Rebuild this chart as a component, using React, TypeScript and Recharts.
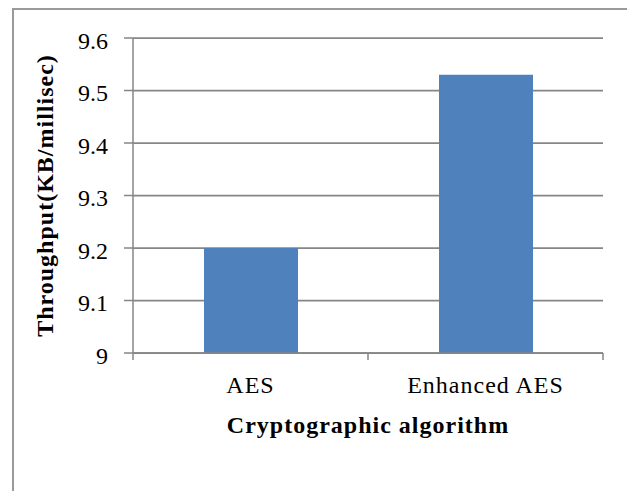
import React from "react";
import {
  BarChart,
  Bar,
  XAxis,
  YAxis,
  CartesianGrid,
  Label,
} from "recharts";

const categories = ["AES", "Enhanced AES"];
const throughput = [9.2, 9.53];
const yTicks = [9, 9.1, 9.2, 9.3, 9.4, 9.5, 9.6];

const chartData = categories.map((name, i) => ({ name, value: throughput[i] }));

const W = 627;
const H = 483;
const PLOT_W = 470;
const AXIS_COLOR = "#868686";
const FONT = "Liberation Serif";

function CategoryTick(props: any) {
  const { x, y, payload, index } = props;
  const half =
    payload && typeof payload.offset === "number" && payload.offset > 0
      ? payload.offset
      : PLOT_W / categories.length / 2;
  const last = index === categories.length - 1;
  return (
    <g>
      <line x1={x - half} y1={y} x2={x - half} y2={y + 7} stroke={AXIS_COLOR} strokeWidth={1.5} />
      {last && (
        <line x1={x + half} y1={y} x2={x + half} y2={y + 7} stroke={AXIS_COLOR} strokeWidth={1.5} />
      )}
      <text
        x={x}
        y={y}
        dy={40}
        textAnchor="middle"
        fill="#000"
        fontSize={24}
        style={{ fontFamily: FONT }}
        letterSpacing={1}
      >
        {payload.value}
      </text>
    </g>
  );
}

export default function App() {
  return (
    <div
      style={{
        position: "relative",
        width: W,
        height: H,
        overflow: "hidden",
        background: "#fff",
        fontFamily: FONT,
      }}
    >
      <div
        style={{
          position: "absolute",
          left: 4,
          top: 0,
          width: 615,
          height: 540,
          border: "2px solid #9a9a9a",
        }}
      />
      <div style={{ position: "absolute", left: 0, top: 0 }}>
        <BarChart
          width={W}
          height={H}
          data={chartData}
          margin={{ top: 30, right: 32, left: 0, bottom: 108 }}
          style={{ fontFamily: FONT }}
        >
          <CartesianGrid vertical={false} stroke={AXIS_COLOR} strokeWidth={1.75} />
          <XAxis
            dataKey="name"
            height={30}
            tickLine={false}
            tickSize={0}
            tickMargin={0}
            axisLine={{ stroke: AXIS_COLOR, strokeWidth: 1.5 }}
            tick={<CategoryTick />}
            interval={0}
          >
            <Label
              content={(p: any) => {
                const vb = p.viewBox;
                return (
                  <text
                    x={vb.x + vb.width / 2}
                    y={vb.y + 80}
                    textAnchor="middle"
                    fontSize={24}
                    fontWeight="bold"
                    style={{ fontFamily: FONT }}
                    letterSpacing={1}
                    fill="#000"
                  >
                    Cryptographic algorithm
                  </text>
                );
              }}
            />
          </XAxis>
          <YAxis
            width={125}
            domain={[9, 9.6]}
            ticks={yTicks}
            interval={0}
            tickSize={9}
            tickMargin={16}
            tickLine={{ stroke: AXIS_COLOR, strokeWidth: 1.5 }}
            axisLine={{ stroke: AXIS_COLOR, strokeWidth: 1.5 }}
            tick={{ fontSize: 24, fontFamily: FONT, fill: "#000", dy: 2 }}
            tickFormatter={(v: number) => (v === 9 ? "9" : v.toFixed(1))}
          >
            <Label
              content={(p: any) => {
                const vb = p.viewBox;
                const cx = 37;
                const cy = vb.y + vb.height / 2;
                return (
                  <text
                    x={cx}
                    y={cy}
                    transform={`rotate(-90 ${cx} ${cy})`}
                    textAnchor="middle"
                    dominantBaseline="central"
                    fontSize={24}
                    fontWeight="bold"
                    style={{ fontFamily: FONT }}
                    letterSpacing={1}
                    fill="#000"
                  >
                    Throughput(KB/millisec)
                  </text>
                );
              }}
            />
          </YAxis>
          <Bar dataKey="value" fill="#4f81bd" barSize={94} isAnimationActive={false} />
        </BarChart>
      </div>
    </div>
  );
}
